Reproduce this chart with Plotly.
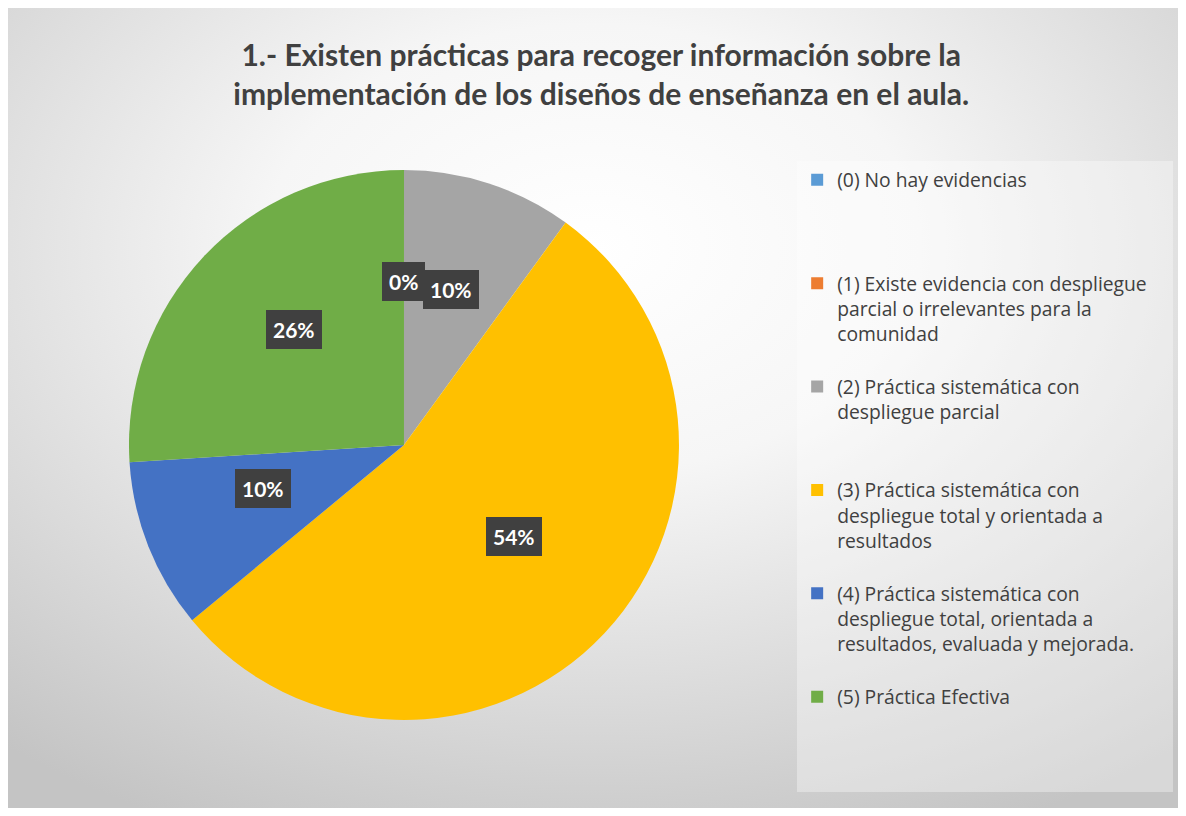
import base64
import math
import plotly.graph_objects as go

# ---------------- data ----------------
categories = [
    "(0) No hay evidencias",
    "(1) Existe evidencia con despliegue<br>parcial o irrelevantes para la<br>comunidad",
    "(2) Práctica sistemática con<br>despliegue parcial",
    "(3) Práctica sistemática con<br>despliegue total y orientada a<br>resultados",
    "(4) Práctica sistemática con<br>despliegue total, orientada a<br>resultados, evaluada y mejorada.",
    "(5) Práctica Efectiva",
]
values = [0, 0, 10, 54, 10, 26]
colors = ["#5B9BD5", "#ED7D31", "#A5A5A5", "#FFC000", "#4472C4", "#70AD47"]
title_text = ("1.- Existen prácticas para recoger información sobre la<br>"
              "implementación de los diseños de enseñanza en el aula.")

# ---------------- layout constants ----------------
W, H = 1170, 800
dom_x = [0.1034, 0.5735]
dom_y = [0.11, 0.7975]
legend_slot_lines = [4, 4, 4, 4, 4, 4]

# legend labels padded so that every entry takes the same vertical slot
legend_labels = []
for k, (cat, slot) in enumerate(zip(categories, legend_slot_lines)):
    n = cat.count("<br>") + 1
    pad = ["\u00a0"] * max(0, slot - n)
    if k == len(categories) - 1 and pad:
        pad[-1] = "\u00a0" * 66  # widens the legend box like the original
    legend_labels.append("<br>".join([cat] + pad))

# background radial gradient (svg data uri)
svg = f"""<svg xmlns='http://www.w3.org/2000/svg' width='{W}' height='{H}'>
<defs><radialGradient id='g' cx='50%' cy='30%' r='80%'>
<stop offset='0%' stop-color='#ffffff'/>
<stop offset='35%' stop-color='#f6f6f6'/>
<stop offset='100%' stop-color='#c4c4c4'/>
</radialGradient></defs>
<rect width='100%' height='100%' fill='url(#g)'/></svg>"""
bg_uri = "data:image/svg+xml;base64," + base64.b64encode(svg.encode()).decode()

fig = go.Figure(go.Pie(
    labels=legend_labels,
    values=values,
    marker=dict(colors=colors, line=dict(width=0)),
    sort=False,
    direction="clockwise",
    rotation=0,
    textinfo="none",
    hoverinfo="percent",
    domain=dict(x=dom_x, y=dom_y),
    showlegend=True,
))

# data labels in dark boxes, positioned from the slice mid-angles
total = sum(values)
cx = (dom_x[0] + dom_x[1]) / 2 * W
cy = (1 - (dom_y[0] + dom_y[1]) / 2) * H
R = min((dom_x[1] - dom_x[0]) * W, (dom_y[1] - dom_y[0]) * H) / 2
rl = 0.55 * R
cum = 0
annotations = []
for i, v in enumerate(values):
    mid = (cum + v / 2) / total * 2 * math.pi
    cum += v
    if i == 1:
        continue  # Excel shows a single 0% label at the top
    px = cx + rl * math.sin(mid)
    py = cy - rl * math.cos(mid) - 12
    annotations.append(dict(
        x=px / W, y=1 - py / H, xref="paper", yref="paper",
        text=f"<b>{round(100 * v / total)}%</b>", showarrow=False,
        font=dict(family="Lato, Open Sans, sans-serif", size=21, color="white"),
        bgcolor="#404040", bordercolor="#404040", borderpad=6,
        xanchor="center", yanchor="middle",
    ))

fig.update_layout(
    width=W, height=H,
    margin=dict(l=0, r=0, t=0, b=0),
    paper_bgcolor="#e6e6e6",
    images=[dict(source=bg_uri, xref="paper", yref="paper", x=0, y=1,
                 sizex=1, sizey=1, sizing="stretch", layer="below",
                 xanchor="left", yanchor="top")],
    title=dict(
        text=f"<b>{title_text}</b>",
        x=0.507, xanchor="center", y=0.928, yanchor="top",
        font=dict(family="Lato, Open Sans, sans-serif", size=30, color="#404040"),
    ),
    legend=dict(
        x=0.6745, xanchor="left", y=0.809, yanchor="top",
        bgcolor="rgba(255,255,255,0.35)",
        font=dict(family="Open Sans, Lato, sans-serif", size=19.3, color="#404040"),
        valign="top",
        itemclick=False,
    ),
    annotations=annotations,
)

fig.write_html("out.html")
